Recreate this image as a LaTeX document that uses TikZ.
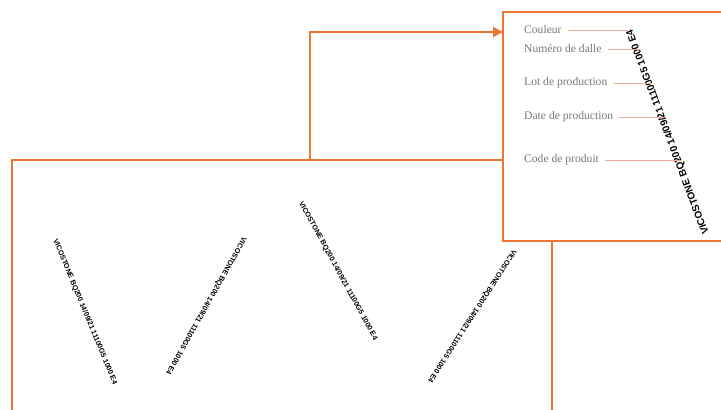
\documentclass[tikz,border=0pt]{standalone}
\usepackage{fontspec}
\setmainfont{Liberation Serif}
\newfontfamily\codefont{Liberation Sans}
\usetikzlibrary{arrows.meta}
\usetikzlibrary{calc}
\definecolor{tileorange}{RGB}{237,118,52}
\definecolor{leader}{RGB}{240,170,150}
\definecolor{labelgray}{RGB}{120,120,120}
\tikzset{
  frame/.style={draw=tileorange,line width=1.6pt},
  code/.style={font=\codefont\bfseries\fontsize{7.2}{8}\selectfont,inner sep=0pt},
  bigcode/.style={font=\codefont\bfseries\fontsize{10}{12}\selectfont,inner sep=0pt},
  field/.style={font=\fontsize{11.6}{13}\selectfont,text=labelgray,inner sep=1pt,anchor=west},
  leaderline/.style={draw=leader,line width=0.6pt}
}
\newcommand{\tilecode}{VICOSTONE BQ200 14/09/21 11100G5 1000 E4}
\begin{document}
\begin{tikzpicture}[x=1pt,y=-1pt]
  \useasboundingbox (0,0) rectangle (721,410);
  \clip (0,0) rectangle (721,410);
  % slab with its printed codes
  \coordinate (SL) at (12,160);
  \coordinate (SR) at (552,160);
  \coordinate (A) at (310,160);
  \draw [frame] (12,415) -- (SL) -- (SR) -- (552,415);
  \node [code,rotate=-67.5] (C1) at (85,312) {\tilecode};
  \node [code,rotate=240.7] (C2) at (206,306) {\tilecode};
  \node [code,rotate=-61.4] (C3) at (338,271) {\tilecode};
  \node [code,rotate=237.1] (C4) at (472,316) {\tilecode};
  % zoom box
  \coordinate (ZT) at (503,12);
  \coordinate (ZB) at (503,241);
  \coordinate (ZA) at (503,32);
  \fill [white] (ZT) rectangle (730,241);
  \draw [frame] (730,12) -- (ZT) -- (ZB) -- (730,241);
  \draw [frame,-{Triangle[length=10pt,width=10pt]}] (A) |- (ZA);
  \node [bigcode,rotate=110.6] (C) at (668,132) {\tilecode};
  % fields
  \node [field] (F1) at (523,30) {Couleur};
  \node [field] (F2) at (523,49) {Numéro de dalle};
  \node [field] (F3) at (523,83) {Lot de production};
  \node [field] (F4) at (523,117) {Date de production};
  \node [field] (F5) at (523,160) {Code de produit};
  \coordinate (P1) at (628,30);
  \coordinate (P2) at (640,49);
  \coordinate (P3) at (652,83);
  \coordinate (P4) at (666,117);
  \coordinate (P5) at (682,160);
  \draw [leaderline] ($(F1.east)+(5,0)$) -- (P1);
  \draw [leaderline] ($(F2.east)+(5,0)$) -- (P2);
  \draw [leaderline] ($(F3.east)+(5,0)$) -- (P3);
  \draw [leaderline] ($(F4.east)+(5,0)$) -- (P4);
  \draw [leaderline] ($(F5.east)+(5,0)$) -- (P5);
\end{tikzpicture}
\end{document}
